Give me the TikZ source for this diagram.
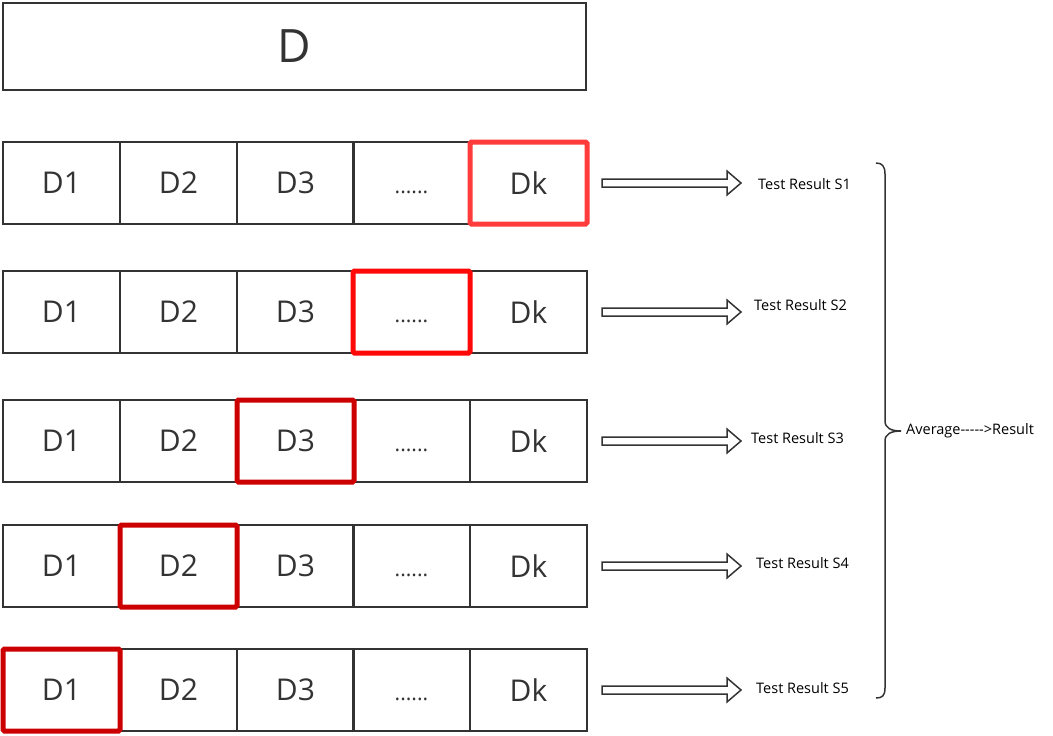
\documentclass[tikz,border=0pt]{standalone}
\usepackage{fontspec}
\setmainfont{Open Sans}
\usetikzlibrary{calc}
\definecolor{txt}{HTML}{333333}
\definecolor{redA}{HTML}{FF3B3B}
\definecolor{redB}{HTML}{FF0808}
\definecolor{redC}{HTML}{CC0000}
\begin{document}
\begin{tikzpicture}[x=1pt,y=-1pt,
  cell/.style={draw=txt, line width=1.5pt, minimum width=117pt, minimum height=82pt,
    inner sep=0pt, outer sep=0pt, anchor=north west, font=\fontsize{30}{30}\selectfont, text=txt},
  hl/.style={draw=#1, line width=5pt, rounded corners=1.5pt},
  lbl/.style={anchor=west, font=\fontsize{14.5}{14.5}\selectfont, text=black, inner sep=0pt},
  fat/.style={draw=txt, line width=1.5pt, fill=white, line join=miter},
  brace/.style={draw=txt, line width=1.5pt}]
\useasboundingbox (0,0) rectangle (1053,736);
\node[draw=txt, line width=2pt, minimum width=583pt, minimum height=87pt, inner sep=0pt,
  outer sep=0pt, anchor=north west, font=\fontsize{46}{46}\selectfont, text=txt] (D) at (3,3) {D};
% rows
\foreach \r/\y in {1/142,2/271,3/400,4/525,5/649}{
  \node[cell] (r\r c1) at (3,\y) {\vphantom{D}D1};
  \node[cell] (r\r c2) at (120,\y) {\vphantom{D}D2};
  \node[cell] (r\r c3) at (237,\y) {\vphantom{D}D3};
  \node[cell] (r\r c4) at (353,\y) {\vphantom{D}{\fontsize{21}{21}\selectfont ......}};
  \node[cell] (r\r c5) at (470,\y) {\vphantom{D}Dk};
  \draw[fat] ($(r\r c5.east)+(15,-4)$) -- ++(125,0) -- ++(0,-8) -- ++(14,12) -- ++(-14,12)
     -- ++(0,-8) -- ++(-125,0) -- cycle;
}
% highlights
\draw[hl=redA] (r1c5.north west) rectangle (r1c5.south east);
\draw[hl=redB] (r2c4.north west) rectangle (r2c4.south east);
\draw[hl=redC] (r3c3.north west) rectangle (r3c3.south east);
\draw[hl=redC] (r4c2.north west) rectangle (r4c2.south east);
\draw[hl=redC] (r5c1.north west) rectangle (r5c1.south east);
% labels
\node[lbl] (s1) at (758,184) {Test Result S1};
\node[lbl] (s2) at (754,305) {Test Result S2};
\node[lbl] (s3) at (751,438) {Test Result S3};
\node[lbl] (s4) at (756,563) {Test Result S4};
\node[lbl] (s5) at (756,688) {Test Result S5};
% brace
\coordinate (bt) at (876,163);
\coordinate (bb) at (876,698);
\coordinate (bm) at (901,431);
\draw[brace] (bt) .. controls (882,163) and (885,166) .. (885,174) -- (885,421)
  .. controls (885,428) and (891,431) .. (bm)
  .. controls (891,431) and (885,434) .. (885,441) -- (885,688)
  .. controls (885,696) and (882,698) .. (bb);
\node[lbl] (avg) at (906,431) {Average-{}-{}-{}-{}-{}>Result};
\end{tikzpicture}
\end{document}
